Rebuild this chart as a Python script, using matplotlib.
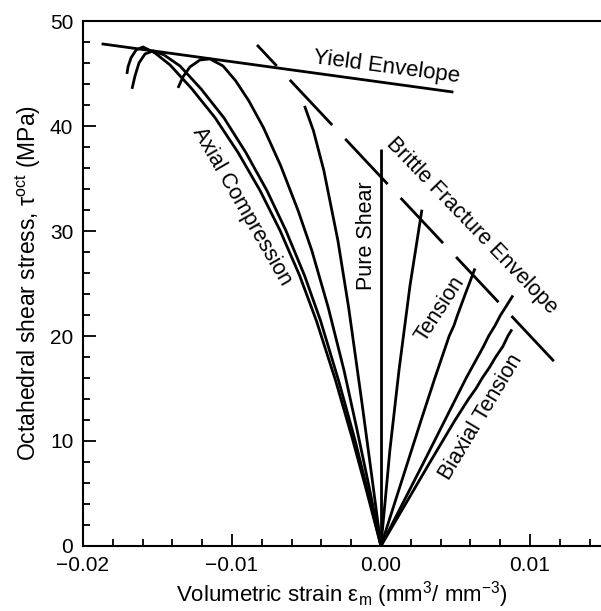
import matplotlib
matplotlib.use("Agg")
import matplotlib.pyplot as plt
from matplotlib.ticker import MultipleLocator, FuncFormatter
import numpy as np

plt.rcParams['font.family'] = ['Liberation Sans', 'DejaVu Sans']
plt.rcParams['mathtext.fontset'] = 'custom'
plt.rcParams['mathtext.rm'] = 'Liberation Sans'
plt.rcParams['lines.scale_dashes'] = False

# strain values in units of 1e-3, stress in MPa
axial1_x = [0, -0.98, -1.89, -3.05, -4.34, -5.46, -6.77, -8.11, -9.58, -11.13, -12.69,
            -14.16, -15.17, -15.97, -16.44, -16.78, -16.98, -17.05]
axial1_y = [0, 5.32, 10.08, 15.78, 21.48, 25.76, 30.04, 33.84, 37.45, 40.78, 43.54,
            45.82, 46.96, 47.53, 47.24, 46.48, 45.63, 44.96]
axial2_x = [0, -0.91, -1.74, -2.85, -4.06, -5.13, -6.38, -7.65, -9.06, -10.54, -12.08,
            -13.49, -14.56, -15.30, -15.84, -16.24, -16.51, -16.71]
axial2_y = [0, 5.32, 10.08, 15.78, 21.48, 25.76, 30.04, 33.84, 37.45, 40.78, 43.54,
            45.72, 46.77, 47.15, 46.86, 46.01, 44.77, 43.54]
axial3_x = [0, -0.75, -1.60, -2.48, -3.54, -4.64, -5.56, -6.73, -7.88, -8.87, -9.75,
            -10.60, -11.48, -12.15, -12.82, -13.29, -13.62]
axial3_y = [0, 5.32, 11.03, 16.73, 22.72, 28.14, 31.94, 36.22, 39.83, 42.40, 44.30,
            45.72, 46.39, 46.29, 45.63, 44.68, 43.63]
axial4_x = [0, -0.58, -1.30, -2.17, -2.89, -3.83, -4.53, -5.13]
axial4_y = [0, 6.27, 13.88, 22.72, 29.09, 35.74, 39.54, 41.92]
shear_x = [0, 0]
shear_y = [0, 37.8]
mid_x = [0, 0.60, 1.21, 1.95, 2.75]
mid_y = [0, 9.13, 16.73, 24.81, 32.03]
tension_x = [0, 0.90, 1.80, 2.70, 3.62, 4.10, 4.58, 4.90, 5.14, 5.40, 5.66, 5.93, 6.31]
tension_y = [0, 4.0, 8.0, 12.0, 16.0, 18.0, 20.0, 21.0, 22.0, 23.0, 24.0, 25.0, 26.43]
biax1_x = [0, 1.44, 2.88, 4.30, 5.72, 6.30, 6.88, 7.23, 7.66, 8.03, 8.48, 8.86]
biax1_y = [0, 4.0, 8.0, 12.0, 16.0, 17.5, 19.0, 20.0, 21.0, 22.0, 23.0, 23.86]
biax2_x = [0, 1.65, 3.30, 4.98, 5.88, 6.38, 6.80, 7.28, 7.70, 8.18, 8.52, 8.79]
biax2_y = [0, 4.0, 8.0, 12.0, 14.0, 15.0, 16.0, 17.0, 18.0, 19.0, 20.0, 20.63]

yield_x = [-18.66, 4.77]
yield_y = [47.81, 43.25]
brittle_x = [-8.32, 11.74]
brittle_y = [47.72, 17.40]

curves = [(axial1_x, axial1_y), (axial2_x, axial2_y), (axial3_x, axial3_y),
          (axial4_x, axial4_y), (shear_x, shear_y), (mid_x, mid_y),
          (tension_x, tension_y), (biax1_x, biax1_y), (biax2_x, biax2_y)]

fig = plt.figure(figsize=(6.01, 6.11), dpi=100)
ax = fig.add_axes([0.1381, 0.1064, 0.8619, 0.8592])

for cx, cy in curves:
    ax.plot(np.array(cx) * 1e-3, cy, color='black', lw=2.0, solid_joinstyle='round',
            solid_capstyle='butt')

ax.plot(np.array(yield_x) * 1e-3, yield_y, color='black', lw=2.0)
ax.plot(np.array(brittle_x) * 1e-3, brittle_y, color='black', lw=2.0,
        linestyle=(23.8, (44.6, 13.7)), dash_capstyle='butt')

fs = 15.5
ax.text(0.4e-3, 45.6, 'Yield Envelope', rotation=-7.5, fontsize=16, ha='center', va='center')
ax.text(-9.33e-3, 32.4, 'Axial Compression', rotation=-60, fontsize=fs, ha='center', va='center')
ax.text(-1.0e-3, 29.6, 'Pure Shear', rotation=90, fontsize=fs, ha='center', va='center')
ax.text(6.11e-3, 30.5, 'Brittle Fracture Envelope', rotation=-46, fontsize=fs, ha='center', va='center')
ax.text(3.96e-3, 22.6, 'Tension', rotation=57, fontsize=fs, ha='center', va='center')
ax.text(6.7e-3, 12.3, 'Biaxial Tension', rotation=59, fontsize=fs, ha='center', va='center')

ax.set_xlim(-0.02, 0.01477)
ax.set_ylim(0, 50)
ax.xaxis.set_major_locator(MultipleLocator(0.01))
ax.xaxis.set_minor_locator(MultipleLocator(0.002))
ax.yaxis.set_major_locator(MultipleLocator(10))
ax.yaxis.set_minor_locator(MultipleLocator(2))
ax.xaxis.set_major_formatter(FuncFormatter(lambda v, p: f'{v:.2f}'.replace('-', '\u2212') if abs(v) > 1e-9 else '0.00'))
ax.tick_params(which='both', direction='in', labelsize=15, top=False, right=False, width=1.3)
ax.tick_params(which='major', length=9, pad=7)
ax.tick_params(which='minor', length=5)
ax.spines['right'].set_visible(False)
for s in ['left', 'bottom', 'top']:
    ax.spines[s].set_linewidth(1.5)

ax.set_xlabel('Volumetric strain ε$_\\mathregular{m}$ (mm$^\\mathregular{3}$/ mm$^\\mathregular{-3}$)', fontsize=16, labelpad=3)
ax.set_ylabel('Octahedral shear stress, τ$^\\mathregular{oct}$ (MPa)', fontsize=16.5, labelpad=5)

fig.savefig('out.png', dpi=100)
